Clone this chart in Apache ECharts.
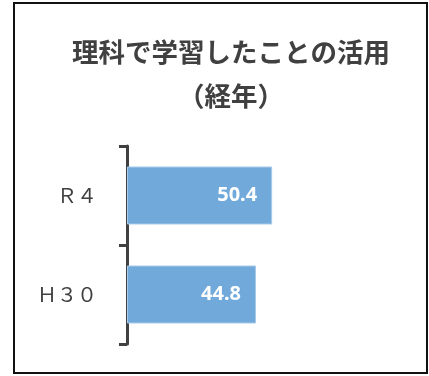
<!DOCTYPE html>
<html>
<head>
<meta charset="utf-8">
<script src="https://cdn.jsdelivr.net/npm/echarts@6/dist/echarts.min.js"></script>
<style>
  html, body { margin: 0; padding: 0; background: #fff; }
  #chart { width: 429px; height: 376px; }
</style>
</head>
<body>
<div id="chart"></div>
<script>
// 年度ラベル（下から上へ）
const categories = ['Ｈ３０', 'Ｒ４']
const values = [44.8, 50.4]
const titleText = '理科で学習したことの活用\n（経年）'

const chart = echarts.init(document.getElementById('chart'))

const option = {
  backgroundColor: '#fff',
  animation: false,
  title: {
    text: titleText,
    left: 231,
    top: 30,
    padding: 0,
    textAlign: 'center',
    textStyle: {
      fontFamily: 'Noto Sans CJK JP',
      fontSize: 26.5,
      fontWeight: 'bold',
      color: '#404040',
      lineHeight: 44
    }
  },
  graphic: [
    {
      type: 'rect',
      shape: { x: 14, y: 3, width: 413, height: 370 },
      style: { fill: 'none', stroke: '#111', lineWidth: 2 },
      silent: true
    }
  ],
  grid: {
    left: 127,
    right: 14,
    top: 146,
    bottom: 32
  },
  xAxis: {
    type: 'value',
    min: 0,
    max: 100,
    show: false
  },
  yAxis: {
    type: 'category',
    data: categories,
    axisLine: { show: true, lineStyle: { color: '#404040', width: 3 } },
    axisTick: { show: true, length: 8, lineStyle: { color: '#404040', width: 3 } },
    axisLabel: {
      margin: 30,
      color: '#404040',
      fontFamily: 'Noto Sans CJK JP',
      fontSize: 20
    }
  },
  series: [
    {
      type: 'bar',
      data: values,
      barWidth: 58,
      itemStyle: {
        color: '#72a9db',
        borderColor: '#a9cbea',
        borderWidth: 1
      },
      label: {
        show: true,
        position: 'insideRight',
        distance: 15,
        color: '#fff',
        fontFamily: 'Noto Sans',
        fontWeight: 'bold',
        fontSize: 20,
        formatter: (p) => p.value.toFixed(1)
      }
    }
  ]
}

chart.setOption(option)
</script>
</body>
</html>
